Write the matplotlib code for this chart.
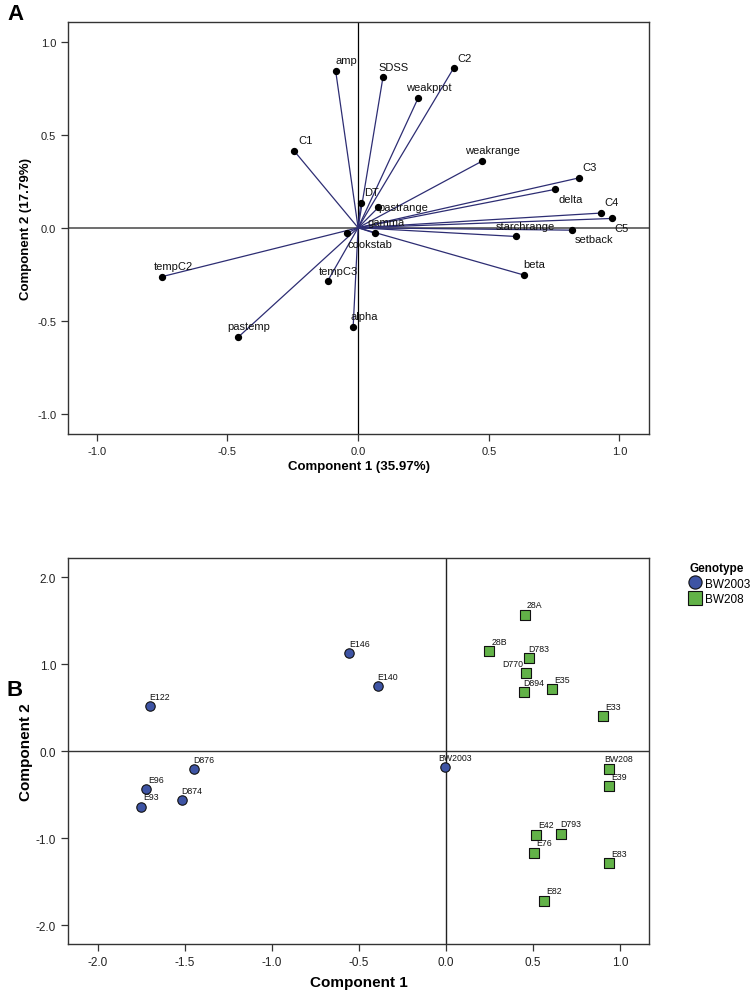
import matplotlib
matplotlib.use('Agg')
import matplotlib.pyplot as plt
from matplotlib.lines import Line2D
from matplotlib.ticker import FormatStrFormatter

plt.rcParams['font.family'] = ['Liberation Sans', 'DejaVu Sans']

# panel A: component loadings of the variables
variables = ['amp', 'SDSS', 'C2', 'weakprot', 'C1', 'weakrange', 'C3', 'delta',
             'C4', 'C5', 'DT', 'pastrange', 'gamma', 'starchrange', 'setback',
             'cookstab', 'tempC2', 'tempC3', 'pastemp', 'alpha', 'beta']
comp1 = [-0.086, 0.095, 0.365, 0.230, -0.245, 0.475, 0.844, 0.755,
         0.929, 0.970, 0.010, 0.078, 0.063, 0.604, 0.818,
         -0.042, -0.750, -0.117, -0.459, -0.019, 0.633]
comp2 = [0.845, 0.809, 0.858, 0.699, 0.414, 0.359, 0.268, 0.207,
         0.079, 0.050, 0.133, 0.110, -0.029, -0.047, -0.013,
         -0.029, -0.263, -0.288, -0.589, -0.535, -0.254]

# panel B: scores of the lines by genotype
bw2003_names = ['E146', 'E140', 'E122', 'D876', 'E96', 'E93', 'D874', 'BW2003']
bw2003_x = [-0.555, -0.393, -1.702, -1.449, -1.723, -1.749, -1.515, -0.004]
bw2003_y = [1.128, 0.752, 0.522, -0.207, -0.433, -0.637, -0.560, -0.180]

bw208_names = ['28A', '28B', 'D783', 'D770', 'D894', 'E35', 'E33', 'BW208',
               'E39', 'E42', 'D793', 'E76', 'E83', 'E82']
bw208_x = [0.452, 0.249, 0.475, 0.460, 0.448, 0.611, 0.903, 0.935,
           0.937, 0.519, 0.659, 0.504, 0.937, 0.565]
bw208_y = [1.573, 1.151, 1.070, 0.901, 0.679, 0.717, 0.409, -0.200,
           -0.396, -0.959, -0.947, -1.166, -1.285, -1.718]

ticksA = [-1.0, -0.5, 0.0, 0.5, 1.0]
ticksBx = [-2.0, -1.5, -1.0, -0.5, 0.0, 0.5, 1.0]
ticksBy = [-2.0, -1.0, 0.0, 1.0, 2.0]

# label offsets (pixels) where the default doesn't fit
offA = {'delta': (15, -9.7), 'C5': (10, -9.3), 'pastrange': (25, 0),
        'setback': (21.7, -9.3), 'cookstab': (22.7, -11.3),
        'weakrange': (10, 11), 'gamma': (12, 11.3), 'starchrange': (9.7, 10.7)}
offB = {'D770': (-13.8, 9.7)}

navy = '#2d2d73'
blue = '#3e54a4'
green = '#62b248'
spine_c = '#333333'

W, H = 754, 995
fig = plt.figure(figsize=(W / 100, H / 100), dpi=100)


def box(l, t, r, b):
    return [l / W, 1 - b / H, (r - l) / W, (b - t) / H]


def style(ax, size):
    for s in ax.spines.values():
        s.set_color(spine_c)
        s.set_linewidth(1.0)
    ax.tick_params(direction='out', length=5, width=0.9, color=spine_c,
                   labelsize=size, labelcolor='#222222', top=False, right=False)
    ax.xaxis.set_major_formatter(FormatStrFormatter('%.1f'))
    ax.yaxis.set_major_formatter(FormatStrFormatter('%.1f'))


# ---- panel A ----
axA = fig.add_axes(box(68, 22.5, 649, 435))
axA.axhline(0, color='#555555', lw=1.2, zorder=1)
axA.axvline(0, color='black', lw=0.9, zorder=1)
for name, x, y in zip(variables, comp1, comp2):
    axA.plot([0, x], [0, y], color=navy, lw=0.9, zorder=2)
    dx, dy = offA.get(name, (11, 10.7))
    axA.annotate(name, (x, y), xytext=(dx, dy), textcoords='offset pixels',
                 ha='center', va='center', fontsize=8, color='#111111', zorder=4)
axA.scatter(comp1, comp2, s=18, color='black', zorder=3)
axA.set_xlim(-1.11, 1.113)
axA.set_ylim(-1.11, 1.11)
axA.set_xticks(ticksA)
axA.set_yticks(ticksA)
style(axA, 8)
axA.set_xlabel('Component 1 (35.97%)', fontsize=9.5, fontweight='bold', labelpad=3)
axA.set_ylabel('Component 2 (17.79%)', fontsize=9.5, fontweight='bold', labelpad=4)

# ---- panel B ----
axB = fig.add_axes(box(68, 559.3, 649, 945.3))
axB.axhline(0, color='#333333', lw=1.0, zorder=1)
axB.axvline(0, color='#222222', lw=1.0, zorder=1)
axB.scatter(bw2003_x, bw2003_y, s=46, marker='o', color=blue,
            edgecolors='#111111', linewidths=0.8, zorder=3)
axB.scatter(bw208_x, bw208_y, s=42, marker='s', color=green,
            edgecolors='#111111', linewidths=0.8, zorder=3)
for names, xs, ys in [(bw2003_names, bw2003_x, bw2003_y),
                      (bw208_names, bw208_x, bw208_y)]:
    for name, x, y in zip(names, xs, ys):
        dx, dy = offB.get(name, (10, 9.7))
        axB.annotate(name, (x, y), xytext=(dx, dy), textcoords='offset pixels',
                     ha='center', va='center', fontsize=6.3, color='#111111', zorder=4)
axB.set_xlim(-2.17, 1.165)
axB.set_ylim(-2.22, 2.22)
axB.set_xticks(ticksBx)
axB.set_yticks(ticksBy)
style(axB, 8.5)
axB.set_xlabel('Component 1', fontsize=11, fontweight='bold', labelpad=5)
axB.set_ylabel('Component 2', fontsize=11, fontweight='bold', labelpad=2)

handles = [Line2D([], [], marker='o', ls='none', markersize=9.5, markerfacecolor=blue,
                  markeredgecolor='#111111', markeredgewidth=0.8),
           Line2D([], [], marker='s', ls='none', markersize=9.5, markerfacecolor=green,
                  markeredgecolor='#111111', markeredgewidth=0.8)]
fig.legend(handles, ['BW2003', 'BW208'], title='Genotype', loc='upper left',
           bbox_to_anchor=(690 / W, 1 - 563 / H), frameon=False, fontsize=8.5,
           title_fontproperties={'weight': 'bold', 'size': 8.5}, alignment='left',
           handlelength=0.9, handletextpad=0.35, borderpad=0, borderaxespad=0,
           labelspacing=0.3)

fig.text(15 / W, 1 - 14 / H, 'A', fontsize=16, fontweight='bold', ha='center', va='center')
fig.text(15 / W, 1 - 690 / H, 'B', fontsize=16, fontweight='bold', ha='center', va='center')

fig.savefig('out.png', dpi=100)
